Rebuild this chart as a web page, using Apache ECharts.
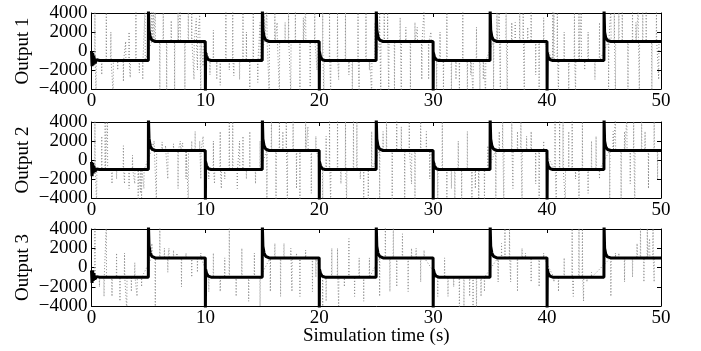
<!DOCTYPE html>
<html>
<head>
<meta charset="utf-8">
<script src="https://cdn.jsdelivr.net/npm/echarts@6/dist/echarts.min.js"></script>
<style>
  html, body { margin: 0; padding: 0; background: #fff; }
  #chart { width: 701px; height: 351px; }
</style>
</head>
<body>
<div id="chart"></div>
<script>
// axis settings
const xTicks = [0, 10, 20, 30, 40, 50];
const yTicks = [-4000, -2000, 0, 2000, 4000];
const panelNames = ["Output 1", "Output 2", "Output 3"];
const xTitle = "Simulation time (s)";

// reference level of the square wave in each 5 s segment
const levels = [-1000, 1000, -1000, 1000, -1000, 1000, -1000, 1000, -1000, 1000];

// black trace: times of the readings (shared) and the values per output
const blackT = [0, 0.05, 0.1, 0.15, 0.2, 0.3, 0.45, 0.7,
  4.99, 5, 5.05, 5.15, 5.3, 5.6,
  9.99, 10, 10.02, 10.1, 10.25, 10.5,
  14.99, 15, 15.05, 15.15, 15.3, 15.6,
  19.99, 20, 20.02, 20.1, 20.25, 20.5,
  24.99, 25, 25.05, 25.15, 25.3, 25.6,
  29.99, 30, 30.02, 30.1, 30.25, 30.5,
  34.99, 35, 35.05, 35.15, 35.3, 35.6,
  39.99, 40, 40.02, 40.1, 40.25, 40.5,
  44.99, 45, 45.05, 45.15, 45.3, 45.6,
  50];
const black1 = [0, -1600, -200, -1500, -500, -1300, -900, -1000,
  -1000, 4500, 2200, 1500, 1150, 1000,
  1000, -4500, -200, -600, -900, -1000,
  -1000, 4500, 2200, 1500, 1150, 1000,
  1000, -4500, -100, -600, -900, -1000,
  -1000, 4500, 2200, 1500, 1150, 1000,
  1000, -4500, -200, -600, -900, -1000,
  -1000, 4500, 2200, 1500, 1150, 1000,
  1000, -4500, -200, -600, -900, -1000,
  -1000, 4500, 2000, 1400, 1100, 1000,
  1000];
const black2 = [-200, -1700, -300, -1400, -600, -1200, -950, -1000,
  -1000, 4500, 2300, 1500, 1150, 1000,
  1000, -4500, -200, -600, -900, -1000,
  -1000, 4500, 2200, 1500, 1150, 1000,
  1000, -4500, -200, -600, -900, -1000,
  -1000, 4500, 2200, 1500, 1150, 1000,
  1000, -4500, -200, -600, -900, -1000,
  -1000, 4500, 2200, 1500, 1150, 1000,
  1000, -4500, -200, -600, -900, -1000,
  -1000, 4500, 2000, 1400, 1100, 1000,
  1000];
const black3 = [-300, -1600, -300, -1400, -600, -1200, -950, -1000,
  -1000, 4500, 2300, 1500, 1150, 1000,
  1000, -4500, -200, -600, -900, -1000,
  -1000, 4500, 2200, 1500, 1150, 1000,
  1000, -4500, -200, -600, -900, -1000,
  -1000, 4500, 2200, 1500, 1150, 1000,
  1000, -4500, -200, -600, -900, -1000,
  -1000, 4500, 2200, 1500, 1150, 1000,
  1000, -4500, -200, -600, -900, -1000,
  -1000, 4500, 2000, 1400, 1100, 1000,
  1000];

// grey dotted trace: spikes, [time, peak value]
const spikes1 = [[0.3,4500],[0.4,-4500],[0.9,-2500],[1.3,4500],[1.7,2000],[1.9,-4500],[2.3,-2000],[2.8,-3200],[3.0,1000],[3.3,2000],[3.4,-2800],[3.9,4500],[4.2,-2300],[4.5,-3000],[4.7,4500],
  [5.3,4500],[5.45,4500],[5.6,4500],[6.0,-4500],[6.3,4500],[6.6,-4500],[7.0,3200],[7.3,-4500],[7.6,4500],[7.8,4500],[8.2,-4500],[8.5,4500],[8.8,4500],[9.0,-3000],[9.2,3400],[9.3,-2000],[9.5,3800],[9.6,-4500],[9.8,-1600],
  [10.4,-2500],[10.7,2200],[11.0,-3000],[11.3,-3600],[11.8,4500],[12.1,-2000],[12.4,4500],[12.5,-2600],[13.0,-3000],[13.3,4500],[13.6,2000],[13.9,-4500],[14.2,4500],[14.6,-3300],[14.8,3000],
  [15.2,4500],[15.4,4500],[15.6,-4500],[16.1,4500],[16.3,3000],[16.5,-4500],[17.0,3000],[17.3,4500],[17.5,-4500],[17.9,4500],[18.3,-4500],[18.6,3500],[18.8,4500],[19.2,-3800],[19.6,4500],[19.8,-2000],
  [20.3,4500],[20.4,-4500],[20.9,4500],[21.0,-4500],[21.6,4500],[21.7,-3000],[22.3,4500],[22.6,-2500],[22.9,-4500],[23.4,4500],[23.5,-4500],[24.1,4500],[24.4,-2000],[24.6,-4500],[24.9,3000],
  [25.3,4500],[25.4,-4500],[25.7,4500],[26.0,4500],[26.1,-4500],[26.6,-4500],[27.1,3500],[27.2,-4500],[27.6,2500],[28.0,-4500],[28.4,3000],[28.6,2500],[29.0,-3000],[29.2,4500],[29.6,-3000],[29.8,2000],
  [30.3,-4500],[30.6,2000],[30.9,-4500],[31.2,4500],[31.6,-4500],[32.0,-3000],[32.3,-4500],[32.6,4500],[33.0,-4500],[33.3,-2500],[33.5,-4500],[33.8,2500],[34.1,-4000],[34.4,-3000],[34.6,-4500],
  [35.3,-4500],[35.6,4500],[35.8,4500],[35.9,-4500],[36.4,4500],[36.5,-4500],[36.9,3000],[37.2,3000],[37.6,4500],[37.9,4500],[38.0,-4500],[38.3,2500],[38.6,4500],[39.0,-2500],[39.3,-4500],[39.7,3500],
  [40.5,4500],[40.6,4500],[40.9,4500],[41.0,-4500],[41.5,2000],[41.9,-4500],[42.4,4500],[42.5,-4500],[42.8,4500],[43.0,4500],[43.3,-2000],[43.6,2000],[44.2,-3000],[44.6,3000],
  [45.4,-4500],[45.6,4500],[45.9,4500],[46.0,-4500],[46.3,4500],[46.6,4500],[47.1,-4500],[47.5,4500],[47.8,3000],[48.0,4500],[48.1,-4500],[48.4,4500],[48.7,4500],[49.2,-4500],[49.6,4500],[49.8,-3000]];
const spikes2 = [[0.3,4500],[0.45,-4500],[0.9,2500],[1.2,4500],[1.4,4500],[1.8,-2500],[2.2,-2000],[2.8,1500],[2.9,-2500],[3.3,-3000],[3.6,500],[3.8,-2500],[4.1,-4500],[4.3,-3500],[4.4,-4000],[4.6,-3000],
  [5.3,1800],[5.5,2000],[5.7,-4500],[6.2,1900],[6.5,1500],[6.7,-2000],[7.2,1700],[7.6,-3000],[7.8,2000],[8.0,1800],[8.3,-2000],[8.5,-4500],[8.8,2000],[9.1,3000],[9.5,2000],[9.6,-2000],[9.8,2500],
  [10.3,-2000],[10.7,2000],[10.8,-2500],[11.3,3000],[11.4,-3000],[11.7,-2000],[12.1,4500],[12.4,4500],[12.8,-3000],[13.0,2000],[13.3,2500],[13.6,-2000],[13.9,3000],[14.4,-2500],[14.8,2000],
  [15.4,-4500],[15.8,4500],[16.2,-4500],[16.5,4500],[16.8,3000],[17.1,4500],[17.2,-4500],[17.7,4500],[18.0,-3000],[18.3,-4500],[18.8,4500],[19.0,3500],[19.3,-3500],[19.7,2500],
  [20.3,-4500],[20.6,2500],[20.9,4500],[21.0,-4500],[21.6,4500],[21.9,-2500],[22.3,4500],[22.4,-4500],[23.0,4500],[23.3,4500],[23.6,-2000],[23.9,-4500],[24.3,-4500],[24.6,3000],
  [25.3,-4500],[25.6,3000],[25.9,4500],[26.4,-4500],[26.8,4500],[27.2,3500],[27.5,-4500],[27.9,4500],[28.1,-2500],[28.4,-4500],[28.9,4500],[29.4,3000],[29.7,-2000],
  [30.4,-4500],[30.8,4500],[31.2,-4500],[31.6,-3000],[31.9,-4500],[32.2,2000],[32.5,-4500],[33.0,3000],[33.4,-4500],[33.7,-3000],[34.0,-4000],[34.5,-4500],[34.8,1500],
  [35.5,-4500],[35.8,3000],[36.1,4500],[36.2,-4500],[36.9,4500],[37.0,-3000],[37.4,3000],[37.7,4500],[37.8,-4500],[38.2,2500],[38.6,3000],[39.0,-2500],[39.3,-4500],[39.7,2000],
  [40.7,4500],[40.8,-4500],[41.1,4500],[41.4,4500],[41.6,-4500],[41.9,3000],[42.2,4500],[42.5,-2000],[42.8,-4500],[43.1,4500],[43.6,-3500],[43.9,2000],[44.3,2500],[44.6,-2000],
  [45.5,-4500],[45.8,3000],[46.0,4500],[46.5,-4500],[46.8,3000],[47.0,4500],[47.3,-2500],[47.6,4500],[47.7,-4500],[48.3,4500],[48.6,3000],[48.9,-3000],[49.4,4500],[49.7,-2000]];
const spikes3 = [[0.3,4500],[0.7,-2000],[1.1,-3000],[1.3,4500],[1.8,-3000],[2.2,1500],[2.5,-3500],[2.9,1500],[3.1,-4500],[3.5,-2500],[3.8,500],[4.0,-3000],[4.4,-2000],
  [5.3,2500],[5.6,-4500],[6.0,4500],[6.4,2000],[6.7,-500],[6.8,2000],[7.2,1800],[7.5,1500],[7.9,-2000],[8.3,1500],[8.8,-1000],[9.3,-500],[9.6,1500],
  [10.3,-2500],[10.7,1500],[11.3,-2500],[11.7,1000],[12.1,4500],[12.7,-3000],[13.2,2000],[13.8,-3500],[14.3,1500],[14.8,-4000],
  [15.7,-2500],[16.1,2500],[16.6,-3000],[16.9,2500],[17.5,2000],[17.6,-2500],[18.0,1500],[18.3,-3000],[18.8,1800],[19.4,-2500],[19.7,-1000],
  [20.3,-4500],[20.6,-3500],[21.1,2000],[21.6,2000],[21.7,-4000],[22.2,-2000],[22.6,3000],[23.1,-3000],[23.5,1000],[23.9,-3500],[24.4,1000],
  [25.3,-3000],[25.8,4500],[26.2,-2500],[26.5,4500],[26.8,-2000],[27.3,3500],[27.8,-2500],[28.1,2000],[28.5,2000],[28.9,-1500],[29.2,1800],
  [30.4,-3000],[31.0,1000],[31.3,-3000],[31.8,-2000],[32.3,-4500],[32.7,-4000],[33.2,-3000],[33.5,-4000],[33.8,-4500],[34.2,-3000],[34.5,-2500],
  [35.7,-1500],[36.0,2500],[36.3,4500],[36.7,4500],[36.8,-1500],[37.4,-2500],[37.8,2000],[38.1,1500],[38.6,-1500],[39.3,-2000],[39.7,1500],
  [40.6,-1500],[41.0,-2500],[41.5,1000],[42.2,4500],[42.3,-3000],[42.8,4500],[43.1,4500],[43.2,-3500],[43.5,-1500],[43.9,-500],
  [45.6,-3000],[46.0,1500],[46.3,1500],[46.8,-1500],[47.5,-1000],[47.9,2500],[48.2,4500],[48.5,-1500],[48.8,4500],[49.0,3000],[49.3,4500],[49.4,-1500]];

const blacks = [black1, black2, black3];
const spikeSets = [spikes1, spikes2, spikes3];

// panel boxes in pixels
const boxes = [
  { top: 13, height: 76 },
  { top: 122, height: 76 },
  { top: 229, height: 77 }
];
const boxLeft = 91.5;
const boxWidth = 569.5;

const FONT = "Liberation Serif";
const fmtY = (v) => (v < 0 ? "\u2212" + Math.abs(v) : String(v));

// each spike leaves the segment level and returns to it
const spikeLine = (list) => {
  const out = [[0, levels[0]]];
  list.forEach(([t, p]) => {
    const lvl = levels[Math.min(levels.length - 1, Math.floor(t / 5))];
    out.push([t - 0.02, lvl], [t, p], [t + 0.02, lvl]);
  });
  out.push([50, levels[levels.length - 1]]);
  return out;
};

const grids = [];
const xAxes = [];
const yAxes = [];
const series = [];

boxes.forEach((b, i) => {
  grids.push({ left: boxLeft, width: boxWidth, top: b.top, height: b.height, containLabel: false });

  const xBase = {
    gridIndex: i,
    type: "value",
    min: xTicks[0],
    max: xTicks[xTicks.length - 1],
    interval: 10,
    splitLine: { show: false },
    axisLine: { show: true, onZero: false, lineStyle: { color: "#000", width: 1 } },
    axisTick: { show: true, inside: true, length: 4, lineStyle: { color: "#000" } }
  };
  xAxes.push({
    ...xBase,
    position: "bottom",
    axisLabel: { show: true, color: "#000", fontFamily: FONT, fontSize: 19, margin: 3, showMinLabel: true, showMaxLabel: true },
    name: i === 2 ? xTitle : "",
    nameLocation: "middle",
    nameGap: 21,
    nameMoveOverlap: false,
    nameTextStyle: { color: "#000", fontFamily: FONT, fontSize: 19, verticalAlign: "top" }
  });
  xAxes.push({ ...xBase, position: "top", axisLabel: { show: false } });

  const yBase = {
    gridIndex: i,
    type: "value",
    min: yTicks[0],
    max: yTicks[yTicks.length - 1],
    interval: 2000,
    splitLine: { show: false },
    axisLine: { show: true, onZero: false, lineStyle: { color: "#000", width: 1 } },
    axisTick: { show: true, inside: true, length: 4, lineStyle: { color: "#000" } }
  };
  yAxes.push({
    ...yBase,
    position: "left",
    axisLabel: {
      show: true, color: "#000", fontFamily: FONT, fontSize: 19, lineHeight: 12, margin: 4,
      formatter: fmtY, showMinLabel: true, showMaxLabel: true, hideOverlap: false
    },
    name: panelNames[i],
    nameLocation: "middle",
    nameRotate: 90,
    nameGap: 59,
    nameMoveOverlap: false,
    nameTextStyle: { color: "#000", fontFamily: FONT, fontSize: 19 }
  });
  yAxes.push({ ...yBase, position: "right", axisLabel: { show: false } });

  series.push({
    type: "line",
    xAxisIndex: i * 2,
    yAxisIndex: i * 2,
    data: spikeLine(spikeSets[i]),
    showSymbol: false,
    clip: true,
    lineStyle: { color: "#8c8c8c", width: 1, type: [1, 2] },
    z: 2
  });
  series.push({
    type: "line",
    xAxisIndex: i * 2,
    yAxisIndex: i * 2,
    data: blackT.map((t, k) => [t, blacks[i][k]]),
    showSymbol: false,
    clip: true,
    lineStyle: { color: "#000", width: 3 },
    z: 3
  });
});

const chart = echarts.init(document.getElementById("chart"), null, { renderer: "canvas" });
chart.setOption({
  animation: false,
  backgroundColor: "#fff",
  grid: grids,
  xAxis: xAxes,
  yAxis: yAxes,
  series: series
});
</script>
</body>
</html>
